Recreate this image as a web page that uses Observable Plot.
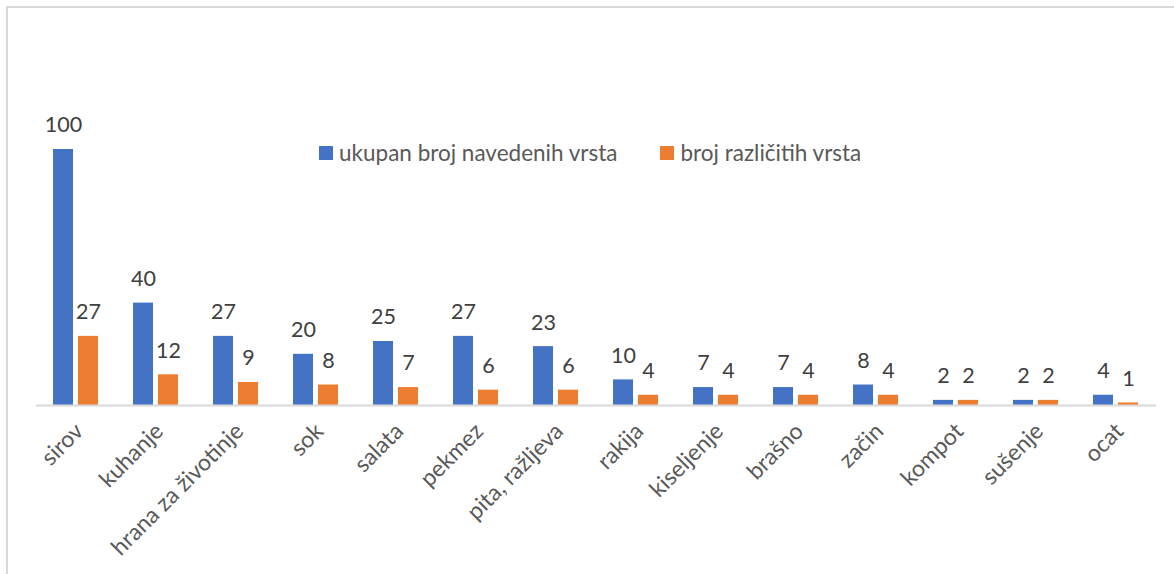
<!DOCTYPE html>
<html><head><meta charset="utf-8">
<script src="https://cdn.jsdelivr.net/npm/d3@7"></script>
<script src="https://cdn.jsdelivr.net/npm/@observablehq/plot@0.6"></script>
<style>
html,body{margin:0;padding:0;background:#fff;overflow:hidden;}
#wrap{position:relative;width:1174px;height:574px;overflow:hidden;font-family:Lato,sans-serif;}
#frame{position:absolute;left:6px;top:6px;width:1300px;height:700px;border-top:2px solid #d9d9d9;border-left:2px solid #d9d9d9;}
#legend{position:absolute;left:319px;top:139px;display:flex;align-items:center;font-size:22.5px;color:#595959;white-space:nowrap;}
.sw{display:inline-block;width:14px;height:14px;margin-right:6px;}
.item{display:flex;align-items:center;margin-right:43px;}
#chart svg{position:absolute;left:0;top:0;}
</style></head>
<body><div id="wrap"><div id="frame"></div><div id="chart"></div><div id="legend"></div></div>
<script>
const categories = ["sirov","kuhanje","hrana za životinje","sok","salata","pekmez","pita, ražljeva","rakija","kiseljenje","brašno","začin","kompot","sušenje","ocat"];
const seriesNames = ["ukupan broj navedenih vrsta","broj različitih vrsta"];
const totalCounts = [100,40,27,20,25,27,23,10,7,7,8,2,2,4];
const distinctCounts = [27,12,9,8,7,6,6,4,4,4,4,2,2,1];
const colors = ["#4472C4","#ED7D31"];

const data = categories.flatMap((c,i)=>[
  {cat:c, series:seriesNames[0], value: totalCounts[i]},
  {cat:c, series:seriesNames[1], value: distinctCounts[i]}
]);

const plot = Plot.plot({
  width:1174, height:574, marginLeft:36, marginRight:18, marginTop:149, marginBottom:169,
  style:{fontFamily:"Lato, sans-serif", background:"transparent", overflow:"visible"},
  fx:{domain:categories, padding:0, label:null},
  x:{domain:seriesNames, paddingInner:5/26, paddingOuter:0.635, axis:null},
  y:{domain:[0,100], axis:null},
  color:{domain:seriesNames, range:colors},
  marks:[
    Plot.barY(data,{fx:"cat", x:"series", y:"value", fill:"series"}),
    Plot.ruleY([0],{stroke:"#d9d9d9", strokeWidth:2}),
    Plot.text(data,{fx:"cat", x:"series", y:"value", text:d=>String(d.value), dy:-24, fontSize:21.5, fill:"#404040"}),
    Plot.axisFx({anchor:"bottom", tickRotate:-45, tickSize:0, tickPadding:22, dx:3, fontSize:23, fill:"#595959", label:null})
  ]
});
document.getElementById("chart").appendChild(plot);

const legend = document.getElementById("legend");
seriesNames.forEach((s,i)=>{
  const it = document.createElement("span"); it.className="item";
  const sw = document.createElement("span"); sw.className="sw"; sw.style.background=colors[i];
  const t = document.createElement("span"); t.textContent=s;
  it.appendChild(sw); it.appendChild(t); legend.appendChild(it);
});
</script>
</body></html>
